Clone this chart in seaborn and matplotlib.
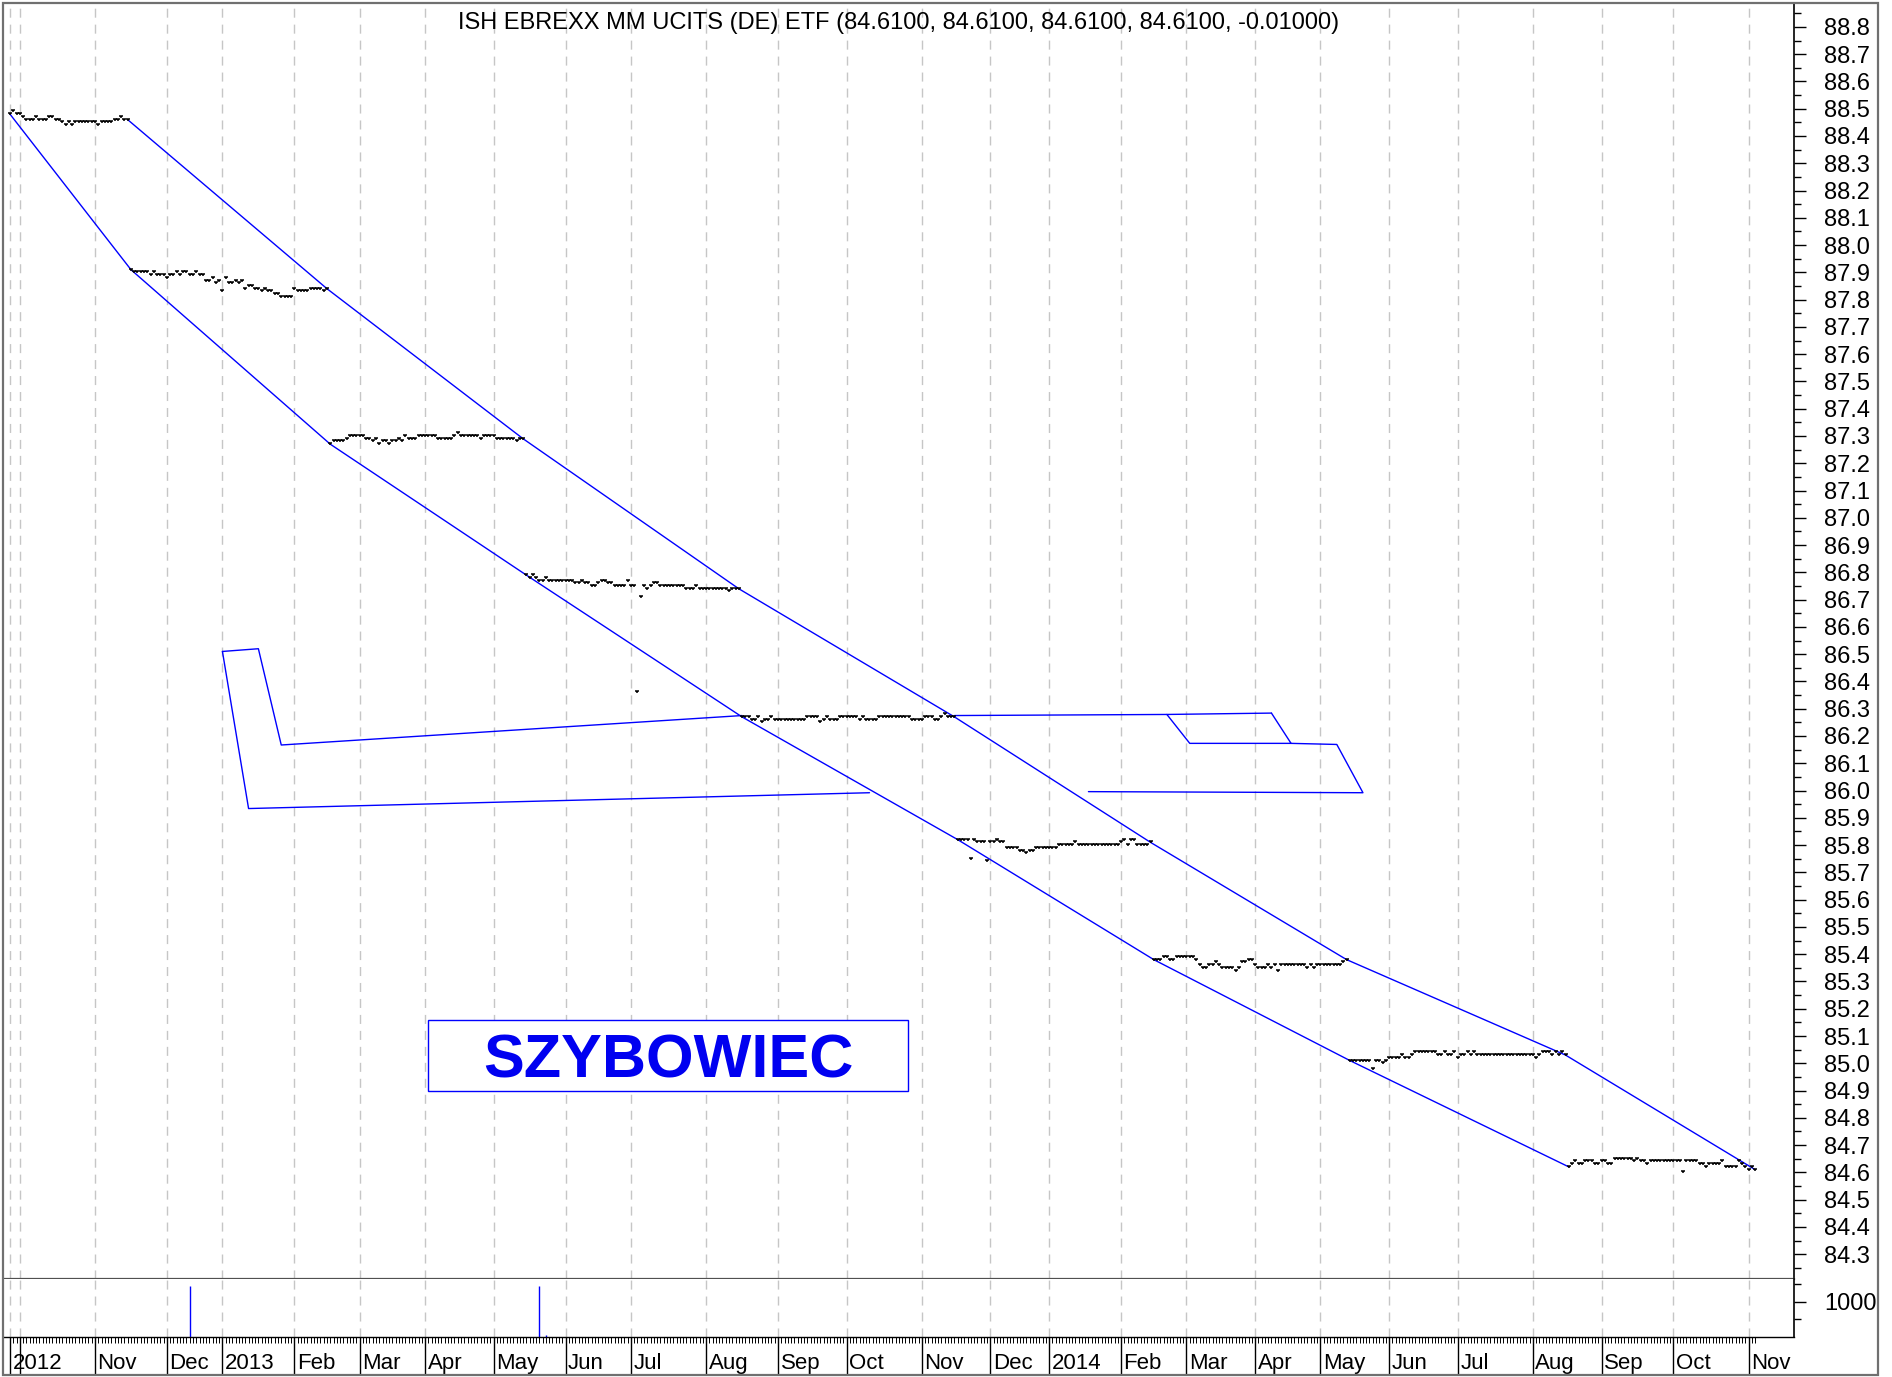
import numpy as np
import pandas as pd
import matplotlib
matplotlib.use("Agg")
import matplotlib.pyplot as plt
import matplotlib.transforms as mtransforms
from matplotlib.path import Path
from matplotlib.patches import Rectangle
from matplotlib.ticker import FixedLocator, NullFormatter
import seaborn as sns

# ---------------------------------------------------------------- data
title_text = "ISH EBREXX MM UCITS (DE) ETF (84.6100, 84.6100, 84.6100, 84.6100, -0.01000)"
first_session = "2012-09-26"
last_session = "2014-11-05"
exchange_holidays = ["2012-12-24", "2012-12-25", "2012-12-26", "2012-12-31",
                     "2013-01-01", "2013-03-29", "2013-04-01", "2013-05-01",
                     "2013-12-24", "2013-12-25", "2013-12-26", "2013-12-31",
                     "2014-01-01", "2014-04-18", "2014-04-21", "2014-05-01"]

# daily closes, run-length encoded: (price, number of consecutive sessions)
q1_runs = [(88.48, 1), (88.49, 1), (88.48, 2), (88.47, 1), (88.46, 3), (88.47, 1),
           (88.46, 3), (88.47, 2), (88.46, 2), (88.45, 1), (88.44, 1), (88.45, 1),
           (88.44, 1), (88.45, 7), (88.44, 1), (88.45, 4), (88.46, 2), (88.47, 1),
           (88.46, 2)]
q2_runs = [(87.91, 1), (87.90, 5), (87.89, 1), (87.90, 1), (87.89, 3), (87.88, 1),
           (87.89, 2), (87.90, 1), (87.89, 1), (87.90, 2), (87.89, 2), (87.90, 1),
           (87.89, 2), (87.87, 2), (87.88, 1), (87.86, 1), (87.87, 1), (87.83, 1),
           (87.88, 1), (87.86, 2), (87.87, 1), (87.86, 1), (87.87, 1), (87.84, 1),
           (87.85, 2), (87.84, 2), (87.83, 1), (87.84, 1), (87.83, 2), (87.82, 2),
           (87.81, 4), (87.84, 1), (87.83, 4), (87.84, 4), (87.83, 1), (87.84, 1)]
q3_runs = [(87.27, 1), (87.28, 4), (87.29, 1), (87.30, 5), (87.29, 2), (87.28, 1),
           (87.29, 1), (87.27, 1), (87.28, 2), (87.27, 1), (87.28, 2), (87.29, 1),
           (87.28, 1), (87.30, 1), (87.29, 3), (87.30, 6), (87.29, 5), (87.30, 1),
           (87.31, 1), (87.30, 6), (87.29, 1), (87.30, 4), (87.29, 6), (87.28, 1),
           (87.29, 2)]
q4_runs = [(86.79, 1), (86.78, 1), (86.79, 1), (86.78, 1), (86.77, 2), (86.78, 1),
           (86.77, 8), (86.76, 2), (86.77, 1), (86.76, 2), (86.75, 2), (86.76, 1),
           (86.77, 2), (86.76, 2), (86.75, 4), (86.77, 1), (86.75, 2), (86.36, 1),
           (86.71, 1), (86.75, 1), (86.74, 1), (86.75, 1), (86.76, 2), (86.75, 8),
           (86.74, 3), (86.75, 1), (86.74, 9), (86.73, 1), (86.74, 3)]
q5_runs = [(86.27, 3), (86.26, 2), (86.27, 1), (86.25, 1), (86.26, 2), (86.27, 1),
           (86.26, 10), (86.27, 4), (86.25, 1), (86.26, 1), (86.27, 1), (86.26, 3),
           (86.27, 6), (86.26, 1), (86.27, 1), (86.26, 4), (86.27, 10), (86.26, 4),
           (86.27, 3), (86.26, 2), (86.27, 1), (86.28, 1), (86.27, 3)]
q6_runs = [(85.82, 4), (85.75, 1), (85.82, 1), (85.81, 3), (85.74, 1), (85.81, 2),
           (85.82, 1), (85.81, 2), (85.79, 4), (85.78, 2), (85.77, 1), (85.78, 2),
           (85.79, 7), (85.80, 5), (85.81, 1), (85.80, 13), (85.81, 1), (85.82, 1),
           (85.80, 1), (85.82, 2), (85.80, 4), (85.81, 1)]
q7_runs = [(85.38, 3), (85.39, 2), (85.38, 2), (85.39, 6), (85.38, 1), (85.36, 1),
           (85.35, 2), (85.36, 2), (85.37, 1), (85.36, 1), (85.35, 4), (85.34, 1),
           (85.35, 1), (85.37, 2), (85.38, 2), (85.36, 1), (85.35, 3), (85.36, 1),
           (85.35, 1), (85.36, 1), (85.34, 1), (85.36, 8), (85.35, 1), (85.36, 1),
           (85.35, 1), (85.36, 8), (85.37, 1), (85.38, 1)]
q8_runs = [(85.01, 7), (84.98, 1), (85.01, 2), (85.00, 1), (85.01, 1), (85.02, 4),
           (85.03, 1), (85.02, 2), (85.03, 1), (85.04, 7), (85.03, 2), (85.04, 1),
           (85.03, 2), (85.04, 1), (85.02, 1), (85.03, 2), (85.04, 1), (85.03, 1),
           (85.04, 1), (85.03, 18), (85.02, 1), (85.03, 1), (85.04, 3), (85.03, 1),
           (85.04, 1), (85.03, 1), (85.04, 1), (85.03, 1)]
q9_runs = [(84.62, 1), (84.63, 1), (84.64, 1), (84.63, 2), (84.64, 3), (84.63, 2),
           (84.64, 2), (84.63, 2), (84.65, 6), (84.64, 1), (84.65, 1), (84.64, 2),
           (84.63, 1), (84.64, 10), (84.60, 1), (84.64, 4), (84.63, 2), (84.62, 1),
           (84.63, 4), (84.64, 1), (84.62, 4), (84.64, 1), (84.63, 1), (84.62, 1),
           (84.61, 1), (84.62, 1), (84.61, 1)]

volume_dates = ["2012-12-12", "2013-05-22", "2013-05-24"]
volume_values = [1450, 1450, 60]

month_tick_labels = ["2012", "", "Nov", "Dec", "2013", "Feb", "Mar", "Apr", "May",
                     "Jun", "Jul", "Aug", "Sep", "Oct", "Nov", "Dec", "2014", "Feb",
                     "Mar", "Apr", "May", "Jun", "Jul", "Aug", "Sep", "Oct", "Nov"]

# hand-drawn glider (dates, prices)
glider_tail_dates = ["2013-01-02", "2013-01-17", "2013-01-28", "2013-08-16"]
glider_tail_prices = [86.51, 86.52, 86.167, 86.275]
glider_back_dates = ["2013-11-15", "2014-02-21", "2014-04-08"]
glider_back_prices = [86.275, 86.279, 86.284]
glider_wing_dates = ["2014-02-21", "2014-03-04", "2014-04-16", "2014-04-08"]
glider_wing_prices = [86.279, 86.173, 86.173, 86.284]
glider_nose_dates = ["2014-04-16", "2014-05-09", "2014-05-21", "2014-01-20"]
glider_nose_prices = [86.173, 86.169, 85.992, 85.996]
glider_belly_dates = ["2013-01-02", "2013-01-14", "2013-10-10"]
glider_belly_prices = [86.51, 85.934, 85.992]

box_label = "SZYBOWIEC"

# ---------------------------------------------------------------- prep
runs_all = [q1_runs, q2_runs, q3_runs, q4_runs, q5_runs, q6_runs, q7_runs, q8_runs, q9_runs]
seg_prices = [np.repeat([p for p, _ in r], [c for _, c in r]) for r in runs_all]
seg_len = np.array([len(s) for s in seg_prices])
prices = np.concatenate(seg_prices)
n = len(prices)
xs = np.arange(n)

sessions = pd.bdate_range(first_session, last_session)
sessions = sessions[~sessions.isin(pd.to_datetime(exchange_holidays))]


def loc(d):
    return int(sessions.searchsorted(pd.Timestamp(d)))


seg_start = np.concatenate([[0], np.cumsum(seg_len)[:-1]])
seg_end = seg_start + seg_len - 1

month_first = [0] + [i for i in range(1, len(sessions))
                     if sessions[i].month != sessions[i - 1].month]
month_first = month_first[:len(month_tick_labels)]

# ---------------------------------------------------------------- style
sns.set_theme(style="white")
plt.rcParams["font.family"] = ["Liberation Sans", "DejaVu Sans"]

W, H = 1892, 1377
fig = plt.figure(figsize=(W / 100, H / 100), dpi=100)
fig.patch.set_facecolor("white")

x_left, x_right = 4, 1794
main_top, main_bot, vol_bot = 4, 1279, 1337
ax = fig.add_axes([x_left / W, 1 - main_bot / H, (x_right - x_left) / W, (main_bot - main_top) / H])
axv = fig.add_axes([x_left / W, 1 - vol_bot / H, (x_right - x_left) / W, (vol_bot - main_bot) / H])

xlim = (-1.84, 545.9)
grid_kw = dict(color="#c6c6c6", linestyle=(0, (6.5, 5)), linewidth=1.0)

# ---------------------------------------------------------------- main panel
bar_marker = Path([(-1, 0.6), (1, 0.6), (0, 0.6), (0, -0.4)],
                  [Path.MOVETO, Path.LINETO, Path.MOVETO, Path.LINETO])

blue = "#0000ff"
chan_lw = 1.0
sns.lineplot(x=seg_start, y=prices[seg_start], ax=ax, color=blue, linewidth=chan_lw,
             estimator=None, sort=False)
sns.lineplot(x=seg_end, y=prices[seg_end], ax=ax, color=blue, linewidth=chan_lw,
             estimator=None, sort=False)
for dts, prs in [(glider_tail_dates, glider_tail_prices),
                 (glider_back_dates, glider_back_prices),
                 (glider_wing_dates, glider_wing_prices),
                 (glider_nose_dates, glider_nose_prices),
                 (glider_belly_dates, glider_belly_prices)]:
    sns.lineplot(x=[loc(d) for d in dts], y=prs, ax=ax, color=blue, linewidth=chan_lw,
                 estimator=None, sort=False)

sns.lineplot(x=xs, y=prices, ax=ax, linestyle="", marker=bar_marker, markersize=2.5,
             markeredgecolor="black", markerfacecolor="black", markeredgewidth=1.1,
             color="black", estimator=None, sort=False)

ax.set_xlim(*xlim)
ax.set_ylim(84.209, 88.884)
ax.set_xlabel("")
ax.set_ylabel("")
ax.set_xticks(month_first)
ax.tick_params(axis="x", which="both", length=0, labelbottom=False, bottom=False)
ax.grid(True, axis="x", **grid_kw)
ax.grid(False, axis="y")

yt = np.round(np.arange(84.3, 88.81, 0.1), 1)
ax.yaxis.tick_right()
ax.set_yticks(yt)
ax.set_yticklabels([f"{v:.1f}" for v in yt])
ax.yaxis.set_minor_locator(FixedLocator(np.round(np.arange(84.25, 88.9, 0.1), 2)))
ax.tick_params(axis="y", which="major", direction="out", length=8.6, width=1.0,
               pad=13.0, labelsize=17, colors="black", right=True, left=False)
ax.tick_params(axis="y", which="minor", direction="out", length=5, width=1.0,
               colors="black", right=True, left=False)

for s in ["top", "left"]:
    ax.spines[s].set_visible(False)
ax.spines["right"].set_color("black")
ax.spines["right"].set_linewidth(1.2)
ax.spines["bottom"].set_color("#505050")
ax.spines["bottom"].set_linewidth(1.6)

ax.text(0.5, 1 - (29 - main_top) / (main_bot - main_top), title_text, transform=ax.transAxes,
        ha="center", va="baseline", fontsize=17, color="black")

# label box
bx0, bx1 = (428.4 - x_left) / (x_right - x_left), (907.5 - x_left) / (x_right - x_left)
by0, by1 = (main_bot - 1090.9) / (main_bot - main_top), (main_bot - 1019.7) / (main_bot - main_top)
ax.add_patch(Rectangle((bx0, by0), bx1 - bx0, by1 - by0, transform=ax.transAxes,
                       fill=True, facecolor="white", edgecolor=blue, linewidth=1.0, zorder=5))
ax.text((bx0 + bx1) / 2, (main_bot - 1077.6) / (main_bot - main_top), box_label,
        transform=ax.transAxes, ha="center", va="baseline", fontsize=44,
        fontweight="bold", color="#0000f0", zorder=6)

# ---------------------------------------------------------------- volume panel
axv.vlines([loc(d) for d in volume_dates], 0, volume_values, color=blue, linewidth=1.0)
axv.set_xlim(*xlim)
axv.set_ylim(0, 1657)
axv.yaxis.tick_right()
axv.set_yticks([1000])
axv.set_yticklabels(["1000"])
axv.yaxis.set_minor_locator(FixedLocator([500, 1500]))
axv.tick_params(axis="y", which="major", direction="out", length=8.6, width=1.0,
                pad=13.0, labelsize=17, colors="black", right=True, left=False)
axv.tick_params(axis="y", which="minor", direction="out", length=5, width=1.0,
                colors="black", right=True, left=False)

axv.set_xticks(month_first)
axv.set_xticklabels(month_tick_labels)
axv.xaxis.set_minor_locator(FixedLocator(xs))
axv.xaxis.set_minor_formatter(NullFormatter())
axv.tick_params(axis="x", which="major", direction="out", length=27.4, width=1.0,
                pad=-16.0, labelsize=16, colors="black", bottom=True)
axv.tick_params(axis="x", which="minor", direction="out", length=4.3, width=0.7,
                colors="black", bottom=True)
offset = mtransforms.ScaledTranslation(2.5 / 100, 0, fig.dpi_scale_trans)
for lbl in axv.get_xticklabels():
    lbl.set_horizontalalignment("left")
    lbl.set_transform(lbl.get_transform() + offset)
axv.grid(True, axis="x", **grid_kw)
axv.grid(False, axis="y")
for s in ["top", "left"]:
    axv.spines[s].set_visible(False)
axv.spines["right"].set_color("black")
axv.spines["right"].set_linewidth(1.2)
axv.spines["bottom"].set_color("black")
axv.spines["bottom"].set_linewidth(1.0)

# outer frame
fig.patches.append(Rectangle((3 / W, 1 - 1375 / H), 1875 / W, 1372 / H, transform=fig.transFigure,
                             fill=False, edgecolor="#707070", linewidth=1.6, zorder=10))

fig.savefig("out.png", dpi=100, facecolor="white")
